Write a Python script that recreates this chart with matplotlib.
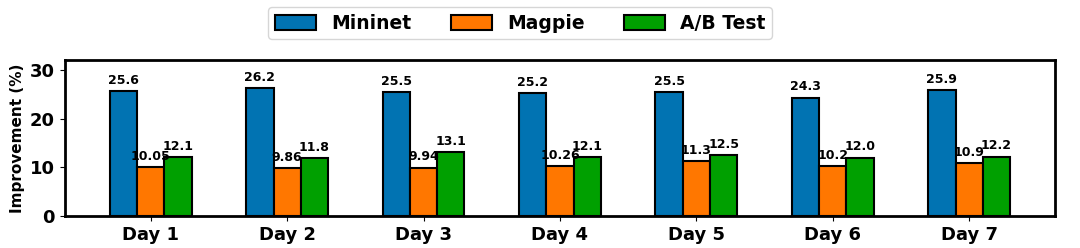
import matplotlib
matplotlib.use("Agg")
import matplotlib.pyplot as plt
import numpy as np

days = ["Day 1", "Day 2", "Day 3", "Day 4", "Day 5", "Day 6", "Day 7"]
mininet = [25.6, 26.2, 25.5, 25.2, 25.5, 24.3, 25.9]
magpie = [10.05, 9.86, 9.94, 10.26, 11.3, 10.2, 10.9]
abtest = [12.1, 11.8, 13.1, 12.1, 12.5, 12.0, 12.2]
mininet_lbl = ["25.6", "26.2", "25.5", "25.2", "25.5", "24.3", "25.9"]
magpie_lbl = ["10.05", "9.86", "9.94", "10.26", "11.3", "10.2", "10.9"]
abtest_lbl = ["12.1", "11.8", "13.1", "12.1", "12.5", "12.0", "12.2"]

series = [("Mininet", mininet, mininet_lbl, "#0173B2"),
          ("Magpie", magpie, magpie_lbl, "#FF7700"),
          ("A/B Test", abtest, abtest_lbl, "#00A000")]

fig = plt.figure(figsize=(10.8, 2.48), dpi=100)
ax = fig.add_axes([0.06, 0.129, 0.917, 0.629])
x = np.arange(len(days))
w = 0.2
for i, (name, vals, lbls, col) in enumerate(series):
    bars = ax.bar(x + (i - 1) * w, vals, w, label=name, color=col,
                  edgecolor="black", linewidth=1.5)
    for b, l in zip(bars, lbls):
        ax.annotate(l, (b.get_x() + b.get_width() / 2, b.get_height()),
                    xytext=(0, 3), textcoords="offset points",
                    ha="center", va="bottom", fontsize=9, fontweight="bold")

ax.set_ylim(0, 32)
ax.set_yticks([0, 10, 20, 30])
ax.set_xticks(x)
ax.set_xticklabels(days, fontsize=13, fontweight="bold")
for t in ax.get_yticklabels():
    t.set_fontsize(13)
    t.set_fontweight("bold")
ax.set_ylabel("Improvement (%)", fontsize=11, fontweight="bold")
for s in ax.spines.values():
    s.set_linewidth(2)
ax.legend(loc="upper center", bbox_to_anchor=(0.46, 1.40), ncol=3,
          prop={"size": 13.5, "weight": "bold"}, handlelength=2.2,
          handleheight=0.85, columnspacing=2.1, borderpad=0.35)
fig.savefig("out.png", dpi=100)
